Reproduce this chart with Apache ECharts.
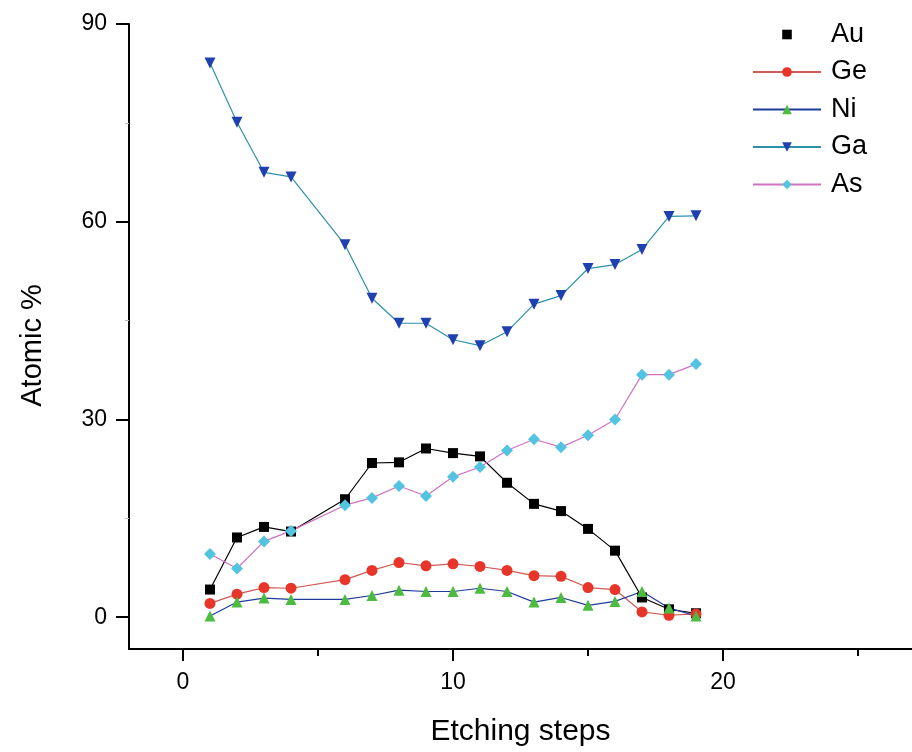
<!DOCTYPE html>
<html>
<head>
<meta charset="utf-8">
<script src="https://cdn.jsdelivr.net/npm/echarts@6/dist/echarts.min.js"></script>
<style>html,body{margin:0;padding:0;background:#fff}#c{width:912px;height:752px}</style>
</head>
<body>
<div id="c"></div>
<script>
var steps = [1, 2, 3, 4, 6, 7, 8, 9, 10, 11, 12, 13, 14, 15, 16, 17, 18, 19];
var au = [4.2, 12.1, 13.7, 13.0, 17.9, 23.4, 23.5, 25.6, 24.9, 24.4, 20.4, 17.2, 16.1, 13.4, 10.1, 3.0, 1.2, 0.6];
var ge = [2.1, 3.5, 4.5, 4.4, 5.7, 7.1, 8.3, 7.8, 8.1, 7.7, 7.1, 6.3, 6.2, 4.5, 4.2, 0.8, 0.3, 0.5];
var ni = [0.2, 2.3, 2.9, 2.7, 2.7, 3.3, 4.1, 3.9, 3.9, 4.4, 3.9, 2.3, 3.0, 1.8, 2.4, 3.9, 1.4, 0.2];
var ga = [84.1, 75.1, 67.5, 66.8, 56.5, 48.4, 44.6, 44.6, 42.1, 41.2, 43.3, 47.5, 48.8, 52.9, 53.5, 55.8, 60.8, 60.9];
var as = [9.6, 7.4, 11.5, 13.1, 17.0, 18.1, 19.9, 18.4, 21.3, 22.8, 25.3, 27.0, 25.8, 27.6, 30.0, 36.8, 36.8, 38.4];
var xMajorTicks = [0, 10, 20];
var xMinorTicks = [5, 15, 25];
var yMajorTicks = [0, 30, 60, 90];
var yMinorTicks = [15, 45, 75];

function pairs(ys) { return steps.map(function (x, i) { return [x, ys[i]]; }); }

var font = 'Liberation Sans, Arial, sans-serif';
var chart = echarts.init(document.getElementById('c'), null, { renderer: 'canvas' });

function mk(name, data, symbol, size, mColor, lColor) {
  return {
    name: name, type: 'line', xAxisIndex: 0, yAxisIndex: 0,
    data: pairs(data), symbol: symbol, symbolSize: size,
    itemStyle: { color: mColor },
    lineStyle: { color: lColor, width: 1.2 },
    emphasis: { disabled: true }, animation: false
  };
}

chart.setOption({
  backgroundColor: '#fff',
  animation: false,
  grid: { left: 129, right: -4, top: 24, bottom: 99 },
  legend: {
    left: 752, top: 21, orient: 'vertical', padding: 0,
    itemWidth: 68, itemHeight: 12, itemGap: 10.5,
    textStyle: { fontFamily: font, fontSize: 27, color: '#000', lineHeight: 26, padding: [0, 0, 0, 5] },
    data: [
      { name: 'Au', lineStyle: { width: 0, opacity: 0 } },
      'Ge', 'Ni', 'Ga', 'As'
    ]
  },
  xAxis: [
    {
      type: 'value', min: -2, max: 27, position: 'bottom',
      axisLine: { show: true, onZero: false, lineStyle: { color: '#000', width: 2 } },
      axisTick: { show: true, customValues: xMajorTicks, length: 12, lineStyle: { color: '#000', width: 2 } },
      axisLabel: { customValues: xMajorTicks, fontFamily: font, fontSize: 23, color: '#000', margin: 22 },
      splitLine: { show: false },
      name: 'Etching steps', nameLocation: 'middle', nameGap: 68,
      nameTextStyle: { fontFamily: font, fontSize: 30, color: '#000' }
    },
    {
      type: 'value', min: -2, max: 27, position: 'bottom',
      axisLine: { show: false, onZero: false },
      axisTick: { show: true, customValues: xMinorTicks, length: 7, lineStyle: { color: '#000', width: 2 } },
      axisLabel: { show: false },
      splitLine: { show: false }
    }
  ],
  yAxis: [
    {
      type: 'value', min: -4.82, max: 90, position: 'left',
      axisLine: { show: true, onZero: false, lineStyle: { color: '#000', width: 2 } },
      axisTick: { show: true, customValues: yMajorTicks, length: 13, lineStyle: { color: '#000', width: 2 } },
      axisLabel: { customValues: yMajorTicks, fontFamily: font, fontSize: 23, color: '#000', margin: 22 },
      splitLine: { show: false },
      name: 'Atomic %', nameLocation: 'middle', nameGap: 82, nameRotate: 90,
      nameTextStyle: { fontFamily: font, fontSize: 29, color: '#000', padding: [0, 18, 0, 0] }
    },
    {
      type: 'value', min: -4.82, max: 90, position: 'left',
      axisLine: { show: false, onZero: false },
      axisTick: { show: true, customValues: yMinorTicks, length: 4, lineStyle: { color: '#bbb', width: 1 } },
      axisLabel: { show: false },
      splitLine: { show: false }
    }
  ],
  series: [
    mk('Au', au, 'rect', 10, '#000000', '#000000'),
    mk('Ge', ge, 'circle', 11, '#e8352a', '#d05a55'),
    mk('Ni', ni, 'triangle', 11, '#4cbb3f', '#1f3c9c'),
    mk('Ga', ga, 'path://M0,0 L10,0 L5,9 Z', 11, '#1f40b0', '#2e90a8'),
    mk('As', as, 'diamond', 12, '#52c3e0', '#cf72c2')
  ]
});
</script>
</body>
</html>
